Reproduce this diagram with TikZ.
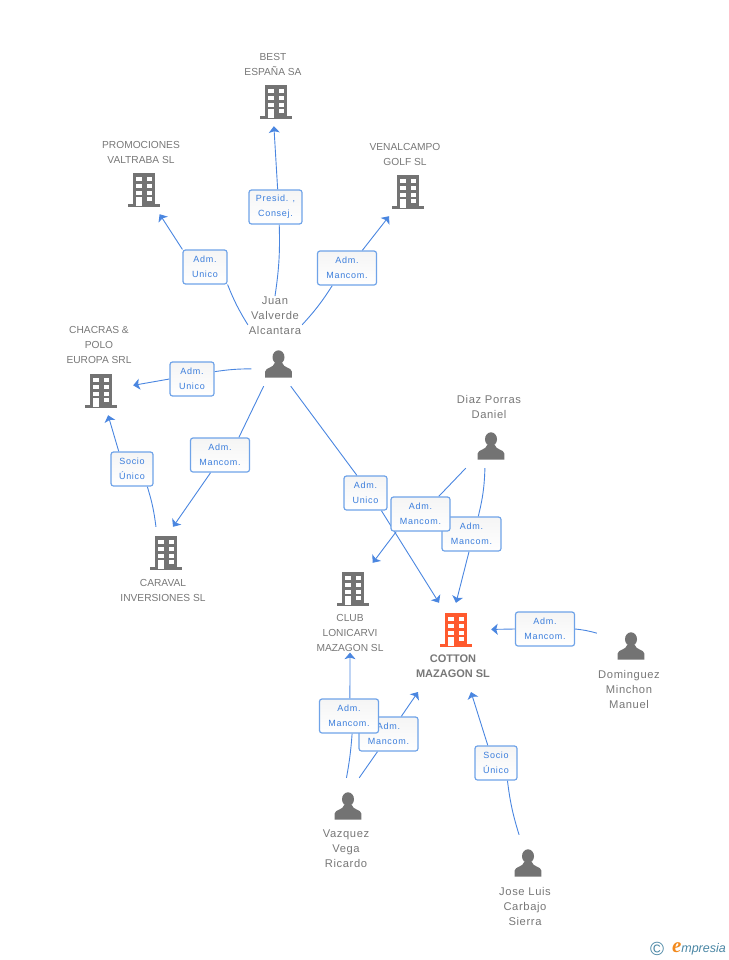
\documentclass[tikz,border=0pt]{standalone}
\usepackage{fontspec}
\setmainfont{Liberation Sans}
\newfontfamily\boxfont[LetterSpace=8]{Liberation Sans}
\newfontfamily\personfont[LetterSpace=5.5]{Liberation Sans}
\newfontfamily\logofont{Liberation Serif}
\usetikzlibrary{arrows.meta}
\usetikzlibrary{backgrounds}
\usetikzlibrary{positioning}
\definecolor{iconGray}{HTML}{737373}
\definecolor{iconOrange}{HTML}{FF5A2E}
\definecolor{nameGray}{HTML}{777777}
\definecolor{linkBlue}{HTML}{4A86E0}
\definecolor{boxBlue}{HTML}{6FA3E8}
\definecolor{boxText}{HTML}{3A7DDC}
\definecolor{logoTeal}{HTML}{4A86A4}
\definecolor{logoOrange}{HTML}{F28A1E}
\tikzset{
	pics/building/.style={code={
		\fill[#1] (-11,-17) rectangle (11,14);
		\fill[#1] (-16,14) rectangle (16,17);
		\foreach \row in {-12.7,-6,0.7} {
			\fill[white] (-7.7,\row) rectangle ++(5.4,4);
			\fill[white] (2.7,\row) rectangle ++(5,4);
		}
		\fill[white] (2.7,7) rectangle ++(5,4.3);
		\fill[white] (-7.7,7) rectangle ++(5.4,9);
	}},
	pics/person/.style={code={
		\fill[iconGray] (0,-7.8) ellipse (6 and 6.9);
		\fill[iconGray] (-13.3,12.7) -- (-13.3,6.5) .. controls (-13,2.5) and (-5,3) .. (-3.8,-2)
			-- (3.8,-2) .. controls (5,3) and (13,2.5) .. (13.3,6.5) -- (13.3,12.7) -- cycle;
	}},
	buildingnode/.style={rectangle, inner sep=0, minimum width=64, minimum height=48},
	personnode/.style={rectangle, inner sep=0, minimum width=54, minimum height=42},
	namelabel/.style={text=nameGray, align=center, inner sep=0, outer sep=1,
		font=\fontsize{10.2}{15}\selectfont},
	personlabel/.style={namelabel, font=\personfont\fontsize{11.2}{15}\selectfont},
	linkbox/.style={draw=boxBlue, line width=1.2, rounded corners=2.5, top color=black!4,
		bottom color=white, text=boxText, align=center, inner sep=0, minimum height=34,
		minimum width=#1, font=\boxfont\fontsize{9}{15}\selectfont},
}
\begin{document}
\begin{tikzpicture}[x=1pt,y=-1pt]
	\useasboundingbox (0,0) rectangle (728,960);

	\begin{scope}[every node/.style={buildingnode}]
		\node (best) at (276,102) {};
		\node (promociones) at (144,190) {};
		\node (venalcampo) at (408,192) {};
		\node (chacras) at (101,391) {};
		\node[minimum height=52] (caraval) at (166,553) {};
		\node[minimum height=52] (club) at (353,589) {};
		\node[minimum width=70, minimum height=54] (cotton) at (456,630) {};
	\end{scope}
	\begin{scope}[every node/.style={personnode}]
		\node (juan) at (278.5,365) {};
		\node (diaz) at (491,447) {};
		\node[minimum width=68] (dominguez) at (631,647) {};
		\node[minimum height=58] (vazquez) at (348,807) {};
		\node[minimum height=58] (jose) at (528,864) {};
	\end{scope}

	\foreach \place in {best,promociones,venalcampo,chacras,caraval,club} {
		\pic at (\place) {building=iconGray};
	}
	\pic at (cotton) {building=iconOrange};
	\foreach \place in {juan,diaz,dominguez,vazquez,jose} {
		\pic at (\place) {person};
	}

	\begin{scope}[every node/.style={namelabel}]
		\node (bestname) at (273,64) {BEST\\ESPAÑA SA};
		\node (promocionesname) at (141,152) {PROMOCIONES\\VALTRABA SL};
		\node (venalcamponame) at (405,154) {VENALCAMPO\\GOLF SL};
		\node (chacrasname) at (99,345) {CHACRAS \&\\POLO\\EUROPA SRL};
		\node (caravalname) at (163,590) {CARAVAL\\INVERSIONES SL};
		\node (clubname) at (350,633) {CLUB\\LONICARVI\\MAZAGON SL};
		\node[font=\fontsize{11}{15}\selectfont\bfseries] (cottonname) at (453,666.5) {COTTON\\MAZAGON SL};
	\end{scope}
	\begin{scope}[every node/.style={personlabel}]
		\node (juanname) at (275,316) {Juan\\Valverde\\Alcantara};
		\node (diazname) at (489,406.5) {Diaz Porras\\Daniel};
		\node (dominguezname) at (629,689) {Dominguez\\Minchon\\Manuel};
		\node (vazquezname) at (346,849) {Vazquez\\Vega\\Ricardo};
		\node (josename) at (525,906) {Jose Luis\\Carbajo\\Sierra};
	\end{scope}

	\node[linkbox=53] (presid) at (275.5,207) {Presid. ,\\Consej.};
	\node[linkbox=44] (promobox) at (205,267) {Adm.\\Unico};
	\node[linkbox=59] (venalbox) at (347,268) {Adm.\\Mancom.};
	\node[linkbox=44] (chacrasbox) at (192,379) {Adm.\\Unico};
	\node[linkbox=42] (sociochacras) at (132,469) {Socio\\Único};
	\node[linkbox=59] (caravalbox) at (220,455) {Adm.\\Mancom.};
	\node[linkbox=43] (unicobox) at (365.5,493) {Adm.\\Unico};
	\node[linkbox=59] (diazcotton) at (471.5,534) {Adm.\\Mancom.};
	\node[linkbox=59] (diazclub) at (420.5,514) {Adm.\\Mancom.};
	\node[linkbox=59] (domingbox) at (545,629) {Adm.\\Mancom.};
	\node[linkbox=59] (vazcotton) at (388.5,734) {Adm.\\Mancom.};
	\node[linkbox=59] (vazclub) at (349,716) {Adm.\\Mancom.};
	\node[linkbox=42] (sociojose) at (496,763) {Socio\\Único};

	\coordinate (cottontipa) at (418,692);
	\coordinate (cottontipb) at (471,692);

	\begin{scope}[on background layer,
	              >={Stealth[length=6.5pt,width=11pt,inset=1.5pt]},
	              every edge/.style={draw=linkBlue, line width=0.9}]
		\path (juanname.north) edge[bend right=5] (presid.-78);
		\path (presid.83) edge[->] (best.-95);
		\path (juanname.198) edge[bend left=5] (promobox.south east);
		\path (promobox.north west) edge[->] (promociones);
		\path (juanname.-18) edge[bend right=5] (venalbox.230);
		\path (venalbox.49) edge[->] (venalcampo);
		\path (juan.188) edge[bend right=4] (chacrasbox.18);
		\path (chacrasbox.west) edge[->] (chacras);
		\path (juan.235) edge (caravalbox.43);
		\path (caravalbox.242) edge[->] (caraval.75);
		\path (juan.-60) edge (unicobox.116);
		\path (unicobox.-48) edge[->] (cotton);
		\path (diaz.220) edge (diazclub.44);
		\path (diazclub.216) edge[->] (club);
		\path (diaz.254) edge[bend left=6] (diazcotton.69);
		\path (diazcotton.262) edge[->] (cotton.north);
		\path (dominguez.158) edge[bend right=5] (domingbox.east);
		\path (domingbox.west) edge[->] (cotton);
		\path (vazquez.93) edge[bend right=3] (vazclub.-80);
		\path (vazclub.87) edge[->] (clubname.south);
		\path (vazquez.69) edge (vazcotton.238);
		\path (vazcotton.54) edge[->] (cottontipa);
		\path (jose.107) edge[bend left=5] (sociojose.-57);
		\path (sociojose.115) edge[->] (cottontipb);
		\path (caraval.111) edge[bend right=5] (sociochacras.-49);
		\path (sociochacras.127) edge[->] (chacras);
	\end{scope}

	\node[text=logoTeal, inner sep=0, font=\fontsize{19}{19}\selectfont] (copyrightmark) at (657,949) {©};
	\node[text=logoTeal, inner sep=0, anchor=east, font=\fontsize{12.5}{14}\selectfont\itshape] (logoword) at (726,949)
		{{\logofont\fontsize{21}{21}\selectfont\bfseries\color{logoOrange}e}mpresia};
\end{tikzpicture}
\end{document}
